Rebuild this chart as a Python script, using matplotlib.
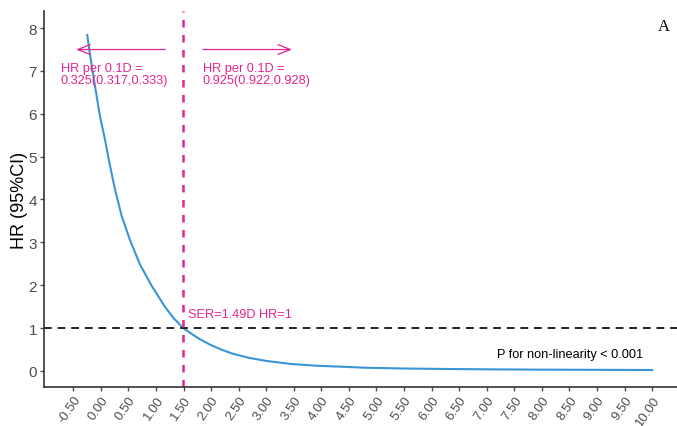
import matplotlib
matplotlib.use("Agg")
import matplotlib.pyplot as plt
from matplotlib.transforms import ScaledTranslation


# Restricted cubic spline curve
ser_values = [-0.246, -0.2, -0.143, -0.08, -0.016, 0.074, 0.165, 0.255, 0.377,
              0.527, 0.708, 0.92, 1.161, 1.32, 1.493, 1.65, 1.795, 2.0, 2.2,
              2.393, 2.7, 3.01, 3.45, 3.91, 4.4, 4.82, 5.5, 6.32, 7.2, 8.0,
              9.0, 10.0]
hr_values = [7.84, 7.42, 6.95, 6.45, 5.95, 5.41, 4.80, 4.25, 3.62,
             3.06, 2.49, 1.99, 1.50, 1.23, 1.00, 0.86, 0.74, 0.60, 0.49,
             0.40, 0.30, 0.23, 0.16, 0.12, 0.095, 0.072, 0.055, 0.043, 0.034,
             0.028, 0.024, 0.02]

x_ticks = [-0.5 + 0.5 * i for i in range(22)]
x_tick_labels = [f"{v:.2f}" for v in x_ticks]
y_ticks = [0, 1, 2, 3, 4, 5, 6, 7, 8]

cutoff_ser = 1.49
left_label = "HR per 0.1D =\n0.325(0.317,0.333)"
right_label = "HR per 0.1D =\n0.925(0.922,0.928)"
cutoff_label = "SER=1.49D HR=1"
p_label = "P for non-linearity < 0.001"

PINK = "#e5258f"
plt.rcParams["font.family"] = ["Liberation Sans", "DejaVu Sans"]

fig = plt.figure(figsize=(6.77, 4.27), dpi=100)
ax = fig.add_axes([0.065, 0.091, 0.935, 0.881])

ax.plot(ser_values, hr_values, color="#3a95d6", linewidth=1.5)
ax.axhline(1, color="#222222", linewidth=1.4, linestyle=(0, (4, 3)))
ax.axvline(cutoff_ser, color=PINK, linewidth=1.8, linestyle=(0, (3, 3)))

arrow_style = dict(arrowstyle="->,head_length=0.9,head_width=0.35",
                   color=PINK, linewidth=0.9)
ax.annotate("", xy=(-0.5, 7.5), xytext=(1.22, 7.5), arrowprops=arrow_style)
ax.annotate("", xy=(3.52, 7.5), xytext=(1.80, 7.5), arrowprops=arrow_style)

ax.text(-0.73, 7.22, left_label, color=PINK, fontsize=9.2,
        ha="left", va="top", linespacing=1.05)
ax.text(1.85, 7.22, right_label, color=PINK, fontsize=9.2,
        ha="left", va="top", linespacing=1.05)
ax.text(1.58, 1.32, cutoff_label, color=PINK, fontsize=9.2,
        ha="left", va="center")
ax.text(7.19, 0.39, p_label, color="black", fontsize=9.2,
        ha="left", va="center")
ax.text(10.22, 8.05, "A", fontsize=12, family="Liberation Serif",
        ha="center", va="center")

ax.set_xlim(-1.03, 10.45)
ax.set_ylim(-0.38, 8.4)
ax.set_xticks(x_ticks)
ax.set_xticklabels(x_tick_labels, rotation=55, ha="right",
                   rotation_mode="anchor")
shift = ScaledTranslation(5 / 72, 0, fig.dpi_scale_trans)
for label in ax.get_xticklabels():
    label.set_transform(label.get_transform() + shift)
ax.set_yticks(y_ticks)
ax.tick_params(colors="#4d4d4d", length=3, width=1)
ax.tick_params(axis="y", labelsize=11, pad=2)
ax.tick_params(axis="x", labelsize=9.5, pad=1.5)
ax.set_ylabel("HR (95%CI)", fontsize=13, va="center")
ax.yaxis.set_label_coords(-0.038, 0.5)

for side in ["top", "right"]:
    ax.spines[side].set_visible(False)
for side in ["left", "bottom"]:
    ax.spines[side].set_color("#333333")
    ax.spines[side].set_linewidth(1.2)

fig.savefig("out.png", dpi=100, facecolor="white")
